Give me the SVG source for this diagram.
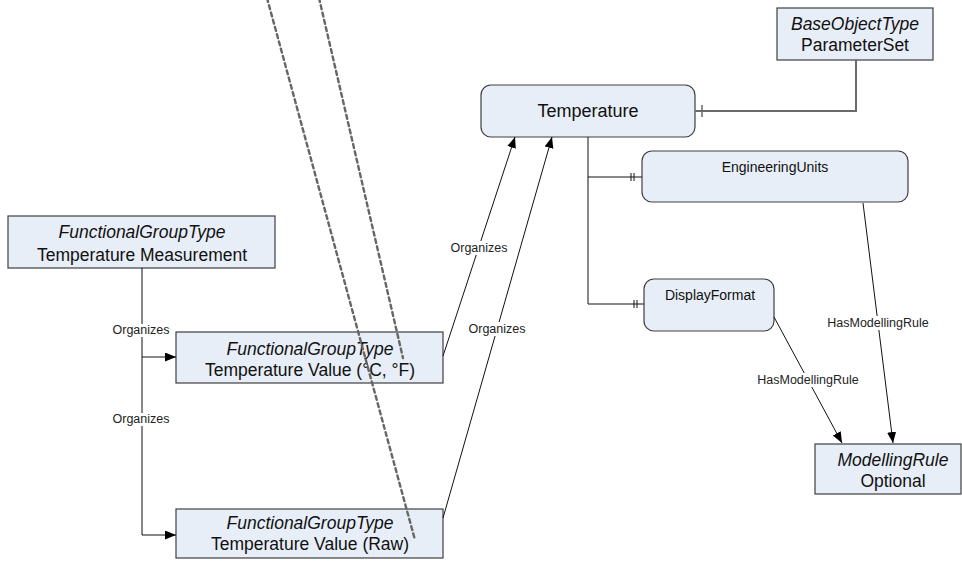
<svg xmlns="http://www.w3.org/2000/svg" width="962" height="561" viewBox="0 0 962 561">
<style>
.box{fill:#E8EEF7;stroke:#3f3f3f;stroke-width:1.2}
.t{font-family:"Liberation Sans",Arial,sans-serif;font-size:17.5px;fill:#111;text-anchor:middle}
.i{font-style:italic}
.s{font-family:"Liberation Sans",Arial,sans-serif;font-size:14px;fill:#111;text-anchor:middle}
.lbl{font-family:"Liberation Sans",Arial,sans-serif;font-size:12.5px;fill:#222;text-anchor:middle}
.lb{fill:#fff}
.c{fill:none;stroke:#111;stroke-width:1}
.g{fill:none;stroke:#6a6a6a;stroke-width:2}
.d{fill:none;stroke:#666;stroke-width:2.4;stroke-dasharray:4 3.5;stroke-linecap:round}
</style>
<defs>
<marker id="ah" markerUnits="userSpaceOnUse" markerWidth="13" markerHeight="11" refX="11" refY="4.5" orient="auto">
<path d="M0,0 L11,4.5 L0,9 z" fill="#000"/>
</marker>
</defs>
<rect width="962" height="561" fill="#fff"/>

<g id="n-measurement">
<rect class="box" x="8" y="216" width="267" height="52"/>
<text class="t i" x="142" y="238">FunctionalGroupType</text>
<text class="t" x="142" y="261">Temperature Measurement</text>
</g>
<g id="n-value-cf">
<rect class="box" x="176" y="332" width="267" height="51"/>
<text class="t i" x="310" y="355">FunctionalGroupType</text>
<text class="t" x="310" y="376">Temperature Value (°C, °F)</text>
</g>
<g id="n-value-raw">
<rect class="box" x="176" y="509" width="267" height="49"/>
<text class="t i" x="310" y="529">FunctionalGroupType</text>
<text class="t" x="310" y="550">Temperature Value (Raw)</text>
</g>
<g id="n-temperature">
<rect class="box" x="481" y="85" width="214" height="52" rx="10"/>
<text class="t" x="588" y="117" style="font-size:18px">Temperature</text>
</g>
<g id="n-parameterset">
<rect class="box" x="777" y="8" width="156" height="52"/>
<text class="t i" x="855" y="30">BaseObjectType</text>
<text class="t" x="855" y="51">ParameterSet</text>
</g>
<g id="n-engineeringunits">
<rect class="box" x="642" y="151" width="266" height="51" rx="10"/>
<text class="s" x="775" y="172">EngineeringUnits</text>
</g>
<g id="n-displayformat">
<rect class="box" x="644" y="279" width="130" height="52" rx="10"/>
<text class="s" x="710" y="300">DisplayFormat</text>
</g>
<g id="n-modellingrule">
<rect class="box" x="815" y="444" width="146" height="50"/>
<text class="t i" x="893" y="466">ModellingRule</text>
<text class="t" x="893" y="487">Optional</text>
</g>

<g id="connectors">
<path class="c" d="M142,268 V535 H176" marker-end="url(#ah)"/>
<path class="c" d="M142,357 H176" marker-end="url(#ah)"/>
<path class="c" d="M443,356 L515,137" marker-end="url(#ah)"/>
<path class="c" d="M443,518 L552,137" marker-end="url(#ah)"/>
<path class="g" d="M695,111 H856 V60"/>
<path class="g" d="M702,105 V117" style="stroke-width:1.5"/>
<path class="c" d="M588,137 V304 H644 M588,177 H642"/>
<path class="c" d="M631,173 V181 M634,173 V181 M634,300 V308 M637,300 V308"/>
<path class="c" d="M863,203 L893,443" marker-end="url(#ah)"/>
<path class="c" d="M774,317 L842,443" marker-end="url(#ah)"/>

<rect class="lb" x="113" y="324" width="58" height="13"/>
<text class="lbl" x="141" y="334">Organizes</text>
<rect class="lb" x="113" y="413" width="58" height="13"/>
<text class="lbl" x="141" y="423">Organizes</text>
<rect class="lb" x="450" y="241" width="58" height="14"/>
<text class="lbl" x="479" y="252">Organizes</text>
<rect class="lb" x="468" y="322" width="58" height="14"/>
<text class="lbl" x="497" y="333">Organizes</text>
<rect class="lb" x="824" y="316" width="108" height="14"/>
<text class="lbl" x="878" y="327">HasModellingRule</text>
<rect class="lb" x="754" y="373" width="108" height="14"/>
<text class="lbl" x="808" y="384">HasModellingRule</text>
</g>

<g id="dashed-lines">
<path class="d" d="M267,-2 L415,540"/>
<path class="d" d="M319,-2 L403,358"/>
</g>
</svg>
